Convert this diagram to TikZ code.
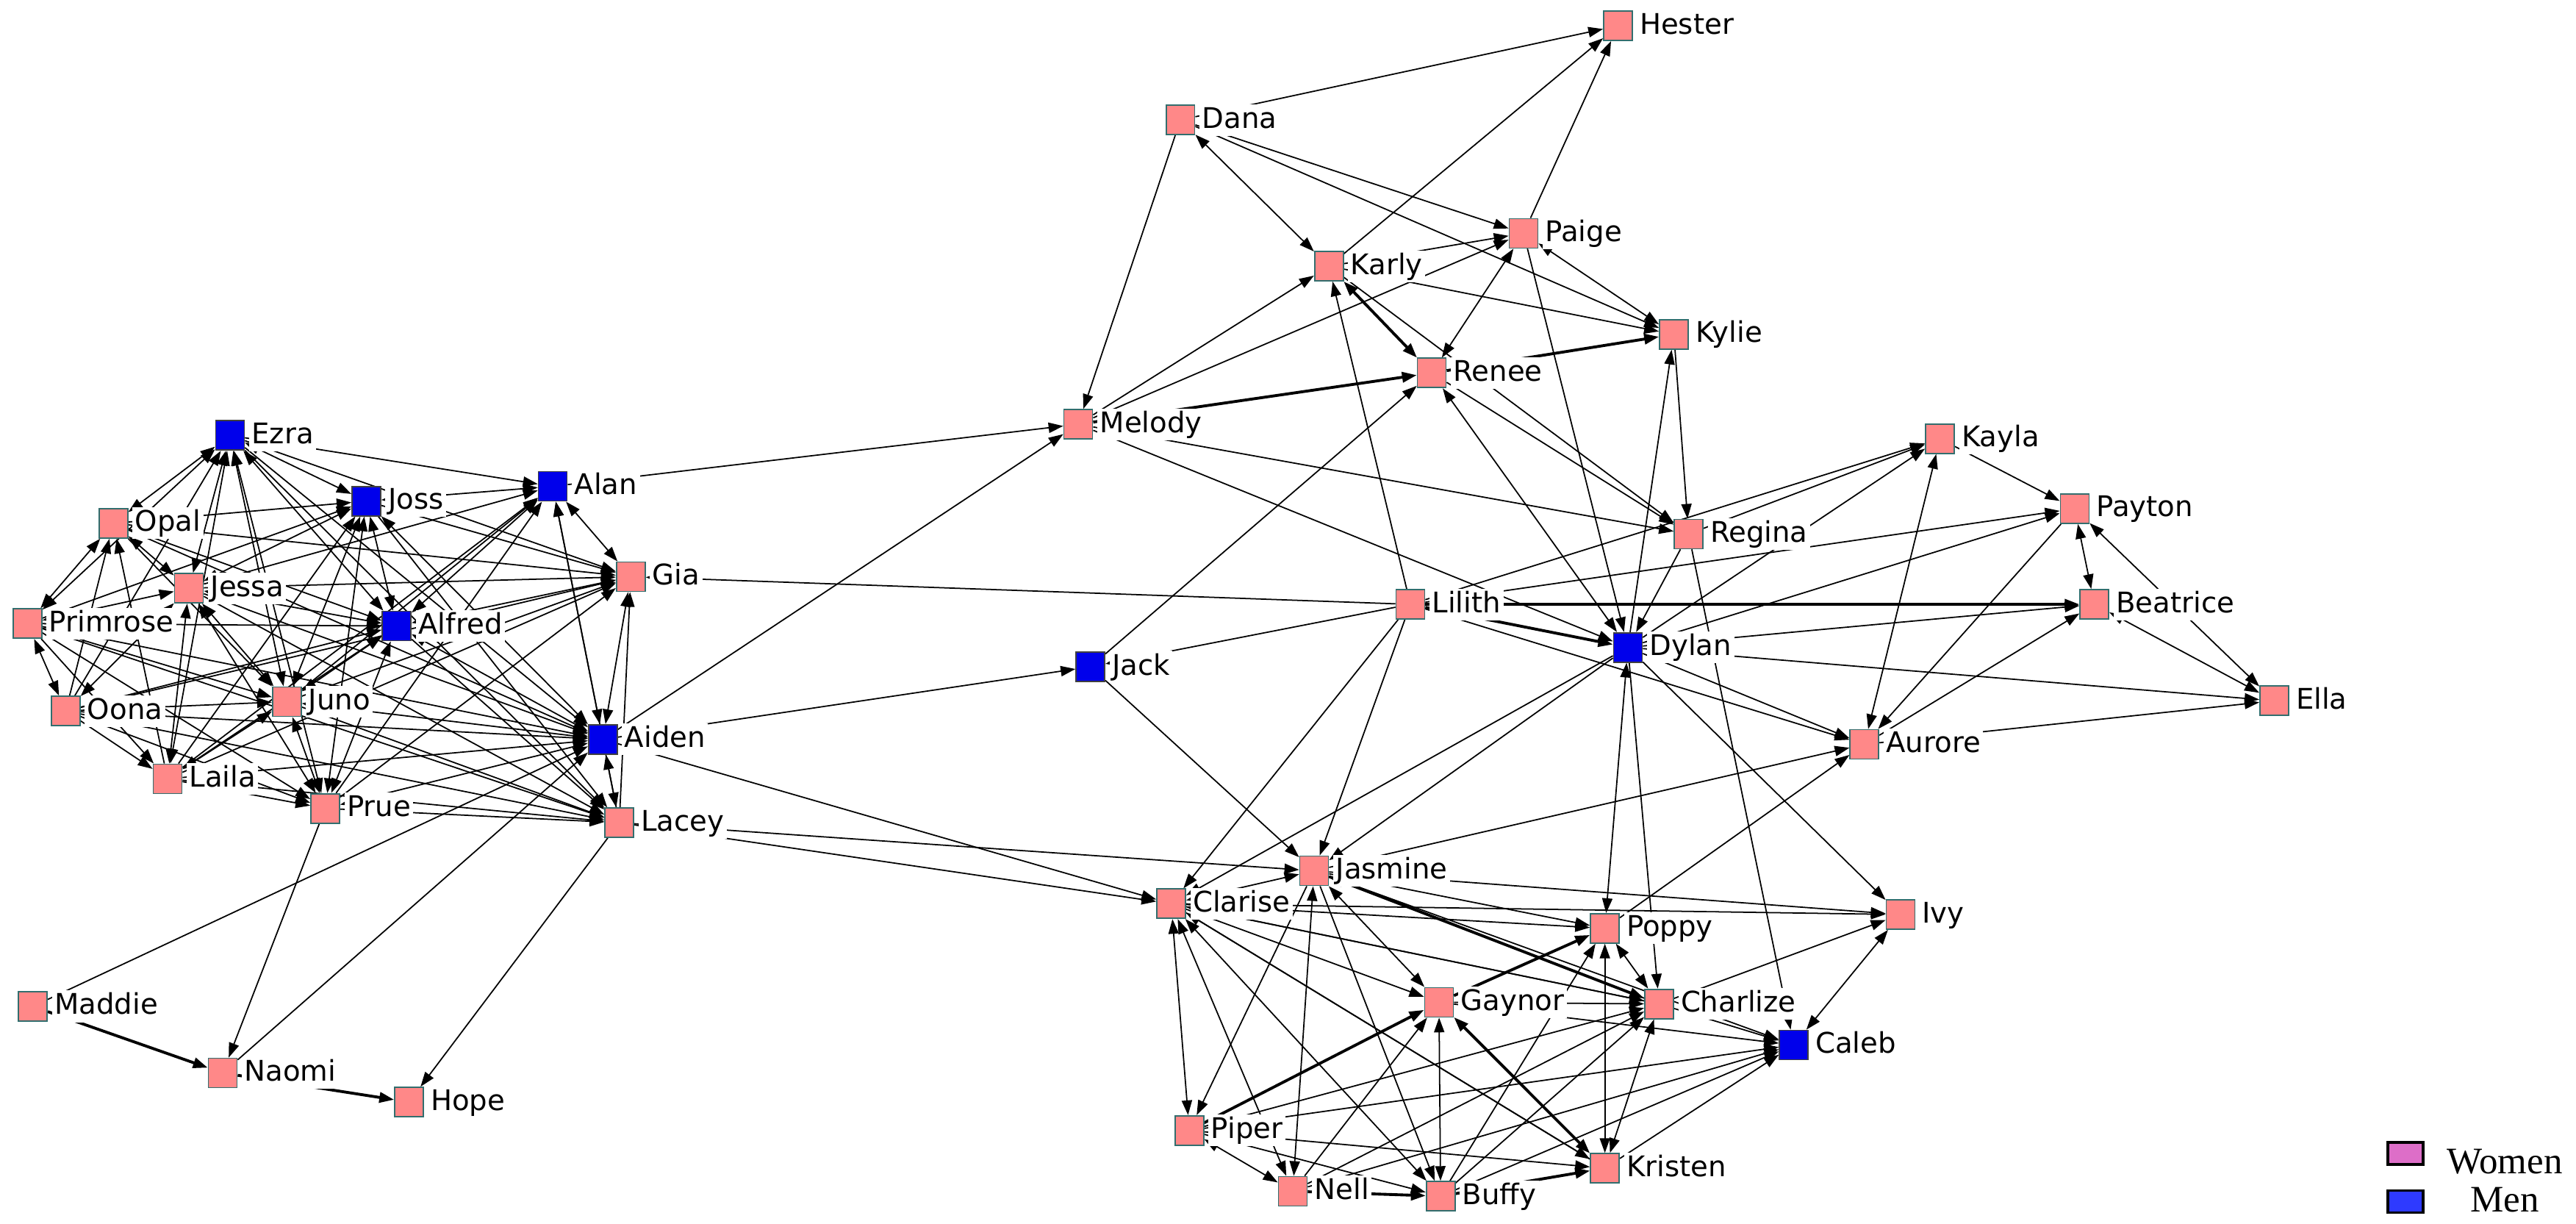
\documentclass[tikz,border=0pt]{standalone}
\usepackage{fontspec}
\setmainfont{DejaVu Sans}
\newfontfamily\legendfont{Liberation Serif}
\usetikzlibrary{arrows, arrows.meta}
\pgfdeclarelayer{edges}
\pgfsetlayers{edges,main}
\definecolor{womanfill}{RGB}{255,136,136}
\definecolor{manfill}{RGB}{0,0,235}
\definecolor{boxline}{RGB}{50,110,110}
\definecolor{keywoman}{RGB}{221,110,200}
\definecolor{keyman}{RGB}{46,58,255}

\begin{document}
\begin{tikzpicture}[x=0.02235cm, y=-0.02235cm,
    >={Triangle[length=2mm, width=1.4mm]},
    label distance=0.5mm,
    woman/.style={rectangle, draw=boxline, fill=womanfill, line width=0.5pt, inner sep=0pt, minimum width=3.9mm, minimum height=4mm},
    man/.style={woman, fill=manfill, draw=black!75},
    tag/.style={fill=white, inner sep=1pt, font=\fontsize{11}{13}\selectfont, text height=2.9mm, text depth=0.7mm},
    tie/.style={line width=0.5pt, ->},
    mutual/.style={line width=0.5pt, <->},
    heavy/.style={line width=1.1pt, ->},
    heavymutual/.style={line width=1.1pt, <->},
    keybox/.style={rectangle, draw=black, line width=1.1pt, inner sep=0pt, minimum width=4.8mm, minimum height=3mm}]
    \useasboundingbox (0,0) rectangle (1568.2,744.5);

    \node[man, label={[tag]right:Ezra}] (Ezra) at (140,265) {};
    \node[man, label={[tag]right:Joss}] (Joss) at (223,305) {};
    \node[man, label={[tag]right:Alan}] (Alan) at (336.5,296) {};
    \node[woman, label={[tag]right:Opal}] (Opal) at (69,318.5) {};
    \node[woman, label={[tag]right:Jessa}] (Jessa) at (115,358) {};
    \node[woman, label={[tag]right:Gia}] (Gia) at (384,351) {};
    \node[woman, label={[tag]right:Primrose}] (Primrose) at (16.7,379.5) {};
    \node[man, label={[tag]right:Alfred}] (Alfred) at (241.5,381) {};
    \node[woman, label={[tag]right:Juno}] (Juno) at (174.6,427) {};
    \node[woman, label={[tag]right:Oona}] (Oona) at (40,432.7) {};
    \node[man, label={[tag]right:Aiden}] (Aiden) at (367,450) {};
    \node[woman, label={[tag]right:Laila}] (Laila) at (102,474) {};
    \node[woman, label={[tag]right:Prue}] (Prue) at (198,492) {};
    \node[woman, label={[tag]right:Lacey}] (Lacey) at (377,500.7) {};
    \node[woman, label={[tag]right:Maddie}] (Maddie) at (20,612.5) {};
    \node[woman, label={[tag]right:Naomi}] (Naomi) at (135.6,653) {};
    \node[woman, label={[tag]right:Hope}] (Hope) at (249,670.7) {};

    \node[woman, label={[tag]right:Hester}] (Hester) at (985,15.7) {};
    \node[woman, label={[tag]right:Dana}] (Dana) at (718.6,73) {};
    \node[woman, label={[tag]right:Paige}] (Paige) at (927.5,142) {};
    \node[woman, label={[tag]right:Karly}] (Karly) at (809,162) {};
    \node[woman, label={[tag]right:Kylie}] (Kylie) at (1019,203.5) {};
    \node[woman, label={[tag]right:Renee}] (Renee) at (871.6,227) {};
    \node[woman, label={[tag]right:Melody}] (Melody) at (656.4,258.2) {};
    \node[woman, label={[tag]right:Kayla}] (Kayla) at (1181,267) {};
    \node[woman, label={[tag]right:Payton}] (Payton) at (1263,309.6) {};
    \node[woman, label={[tag]right:Regina}] (Regina) at (1028,325) {};
    \node[woman, label={[tag]right:Lilith}] (Lilith) at (858.6,367.8) {};
    \node[woman, label={[tag]right:Beatrice}] (Beatrice) at (1275,367.8) {};
    \node[man, label={[tag]right:Dylan}] (Dylan) at (991,394) {};
    \node[man, label={[tag]right:Jack}] (Jack) at (663.8,405.8) {};
    \node[woman, label={[tag]right:Ella}] (Ella) at (1384.5,426.5) {};
    \node[woman, label={[tag]right:Aurore}] (Aurore) at (1135,453) {};

    \node[woman, label={[tag]right:Jasmine}] (Jasmine) at (800,530) {};
    \node[woman, label={[tag]right:Clarise}] (Clarise) at (713,550) {};
    \node[woman, label={[tag]right:Ivy}] (Ivy) at (1157,556.6) {};
    \node[woman, label={[tag]right:Poppy}] (Poppy) at (977,565) {};
    \node[woman, label={[tag]right:Gaynor}] (Gaynor) at (876,610) {};
    \node[woman, label={[tag]right:Charlize}] (Charlize) at (1010,611) {};
    \node[man, label={[tag]right:Caleb}] (Caleb) at (1092,636) {};
    \node[woman, label={[tag]right:Piper}] (Piper) at (724,688) {};
    \node[woman, label={[tag]right:Kristen}] (Kristen) at (977,711) {};
    \node[woman, label={[tag]right:Nell}] (Nell) at (787,725) {};
    \node[woman, label={[tag]right:Buffy}] (Buffy) at (877,728) {};

    \begin{pgfonlayer}{edges}
    \foreach \a/\b in {Ezra/Alan, Ezra/Gia, Oona/Ezra, Ezra/Aiden, Ezra/Lacey, Opal/Joss, Joss/Gia, Primrose/Joss,
        Laila/Joss, Joss/Lacey, Jessa/Alan, Juno/Alan, Prue/Alan, Laila/Alan, Lacey/Alan, Opal/Alfred, Opal/Juno,
        Opal/Gia, Opal/Aiden, Oona/Opal, Laila/Opal, Jessa/Gia, Jessa/Aiden, Jessa/Lacey, Primrose/Alfred,
        Primrose/Juno, Primrose/Laila, Primrose/Aiden, Primrose/Prue, Primrose/Lacey, Oona/Alfred, Alfred/Lacey,
        Lacey/Gia, Juno/Gia, Prue/Gia, Laila/Gia, Oona/Gia, Oona/Juno, Juno/Lacey, Oona/Laila, Oona/Prue,
        Oona/Aiden, Oona/Lacey, Laila/Prue, Laila/Aiden, Laila/Lacey, Prue/Lacey,
        Alan/Melody, Aiden/Melody, Aiden/Jack, Aiden/Clarise, Lacey/Jasmine, Lacey/Clarise, Lilith/Gia,
        Lacey/Hope, Prue/Naomi, Maddie/Aiden, Naomi/Aiden,
        Dana/Hester, Dana/Melody, Dana/Paige, Dana/Kylie, Karly/Hester, Paige/Hester, Karly/Paige, Melody/Paige,
        Melody/Karly, Karly/Kylie, Paige/Dylan, Kylie/Regina, Dylan/Kylie, Renee/Regina, Lilith/Karly, Jack/Renee,
        Melody/Dylan, Melody/Regina, Karly/Regina, Lilith/Jack,
        Lilith/Payton, Lilith/Aurore, Lilith/Kayla, Regina/Kayla, Dylan/Kayla, Kayla/Payton, Dylan/Beatrice,
        Dylan/Ella, Aurore/Ella, Aurore/Beatrice, Payton/Aurore, Dylan/Payton, Regina/Dylan, Regina/Caleb,
        Dylan/Aurore, Dylan/Ivy, Lilith/Clarise, Lilith/Jasmine, Jack/Jasmine, Dylan/Clarise, Dylan/Jasmine,
        Jasmine/Aurore, Poppy/Aurore, Dylan/Charlize,
        Jasmine/Ivy, Clarise/Ivy, Charlize/Ivy, Clarise/Poppy, Jasmine/Poppy, Clarise/Charlize, Clarise/Gaynor,
        Gaynor/Charlize, Gaynor/Caleb, Charlize/Caleb, Jasmine/Piper, Jasmine/Buffy, Clarise/Kristen, Piper/Buffy,
        Piper/Kristen, Piper/Caleb, Piper/Charlize, Nell/Gaynor, Nell/Charlize, Nell/Caleb, Buffy/Poppy,
        Buffy/Charlize, Buffy/Caleb, Kristen/Caleb, Jasmine/Caleb, Charlize/Jasmine, Charlize/Clarise,
        Kristen/Clarise}
        \draw[tie] (\a) -- (\b);
    \foreach \a/\b in {Ezra/Joss, Ezra/Opal, Ezra/Jessa, Ezra/Primrose, Ezra/Alfred, Ezra/Juno, Ezra/Laila,
        Ezra/Prue, Joss/Alan, Joss/Jessa, Joss/Alfred, Joss/Juno, Joss/Aiden, Joss/Prue, Alan/Gia, Alan/Aiden,
        Alan/Alfred, Opal/Jessa, Opal/Primrose, Jessa/Primrose, Jessa/Alfred, Jessa/Juno, Jessa/Oona,
        Jessa/Laila, Jessa/Prue, Primrose/Oona, Alfred/Gia, Alfred/Juno, Alfred/Aiden, Alfred/Prue,
        Alfred/Laila, Gia/Aiden, Juno/Laila, Juno/Prue, Juno/Aiden, Prue/Aiden, Aiden/Lacey,
        Dana/Karly, Paige/Kylie, Renee/Paige, Renee/Dylan,
        Aurore/Kayla, Payton/Beatrice, Payton/Ella, Ella/Beatrice, Poppy/Dylan,
        Caleb/Ivy, Jasmine/Clarise, Poppy/Charlize, Poppy/Kristen, Charlize/Kristen, Gaynor/Buffy,
        Clarise/Piper, Jasmine/Nell, Clarise/Nell, Clarise/Buffy, Piper/Nell, Jasmine/Gaynor}
        \draw[mutual] (\a) -- (\b);
    \foreach \a/\b in {Maddie/Naomi, Naomi/Hope, Melody/Renee, Renee/Kylie, Lilith/Beatrice, Lilith/Dylan,
        Jasmine/Charlize, Gaynor/Poppy, Piper/Gaynor, Nell/Buffy, Buffy/Kristen}
        \draw[heavy] (\a) -- (\b);
    \foreach \a/\b in {Karly/Renee, Kristen/Gaynor}
        \draw[heavymutual] (\a) -- (\b);
    \end{pgfonlayer}

    \node[keybox, fill=keywoman] (keyWomen) at (1464.4,702) {};
    \node[keybox, fill=keyman] (keyMen) at (1464.4,731.3) {};
    \node[anchor=base, inner sep=0pt, font=\legendfont\fontsize{14.5}{17}\selectfont] (textWomen) at (1524.8,714.5) {Women};
    \node[anchor=base, inner sep=0pt, font=\legendfont\fontsize{14.5}{17}\selectfont] (textMen) at (1524.8,737.4) {Men};
\end{tikzpicture}
\end{document}
